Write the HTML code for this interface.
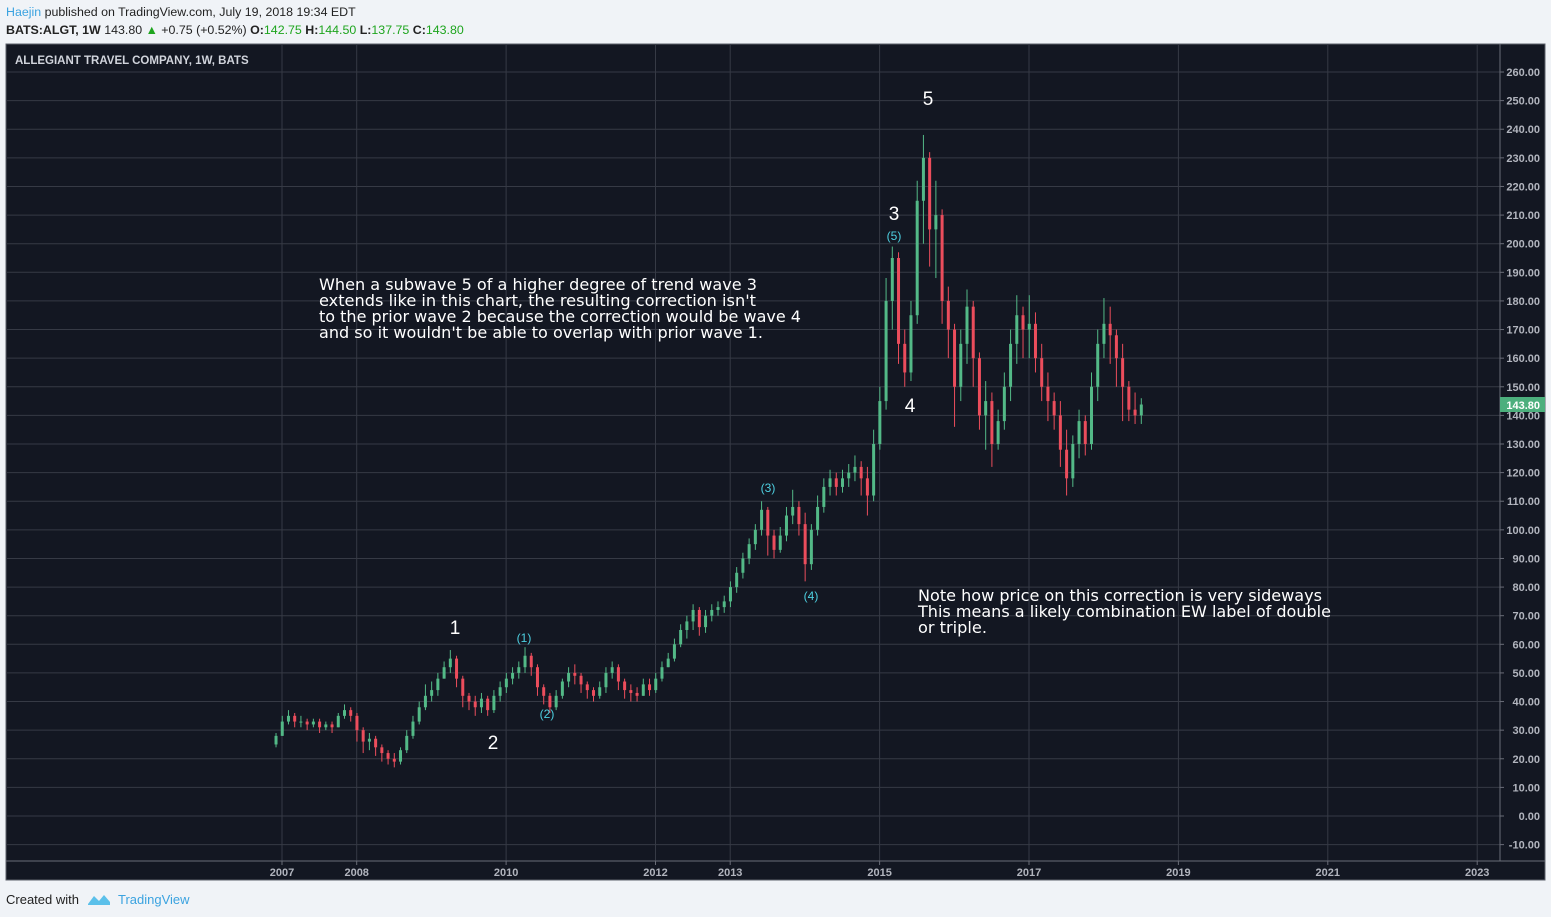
<!DOCTYPE html>
<html><head><meta charset="utf-8"><style>
body{margin:0;background:#f0f3f7;font-family:"Liberation Sans",sans-serif;}
svg{display:block}
</style></head><body>
<svg id="c" width="1551" height="917" xmlns="http://www.w3.org/2000/svg">
<rect x="0" y="0" width="1551" height="917" fill="#f0f3f7"/>
<text x="6" y="16" font-size="12.4" fill="#222"><tspan fill="#3ba3e0">Haejin</tspan> published on TradingView.com, July 19, 2018 19:34 EDT</text>
<text x="6" y="34" font-size="12.4" fill="#222"><tspan font-weight="bold">BATS:ALGT, 1W</tspan>  143.80 <tspan fill="#1ea51e">▲</tspan> +0.75 (+0.52%) <tspan font-weight="bold">O:</tspan><tspan fill="#1ea51e">142.75</tspan> <tspan font-weight="bold">H:</tspan><tspan fill="#1ea51e">144.50</tspan> <tspan font-weight="bold">L:</tspan><tspan fill="#1ea51e">137.75</tspan> <tspan font-weight="bold">C:</tspan><tspan fill="#1ea51e">143.80</tspan></text>
<rect x="6" y="44" width="1539" height="836" fill="#131722" stroke="#5d606b"/>
<g id="grid"></g>
<line x1="6" y1="861" x2="1545" y2="861" stroke="#6a6d78"/>
<line x1="1500" y1="44" x2="1500" y2="861" stroke="#6a6d78"/>
<g id="axes"></g>
<g id="candles"></g>
<text x="15" y="64" font-size="11.5" fill="#d1d4dc" font-weight="bold">ALLEGIANT TRAVEL COMPANY, 1W, BATS</text>
<g font-size="16" fill="#ffffff" font-family="DejaVu Sans, sans-serif">
<text x="319" y="290" textLength="438" lengthAdjust="spacingAndGlyphs">When a subwave 5 of a higher degree of trend wave 3</text>
<text x="319" y="306" textLength="437" lengthAdjust="spacingAndGlyphs">extends like in this chart, the resulting correction isn't</text>
<text x="319" y="322" textLength="482" lengthAdjust="spacingAndGlyphs">to the prior wave 2 because the correction would be wave 4</text>
<text x="319" y="338" textLength="444" lengthAdjust="spacingAndGlyphs">and so it wouldn't be able to overlap with prior wave 1.</text>
</g>
<g font-size="16" fill="#ffffff" font-family="DejaVu Sans, sans-serif">
<text x="918" y="601" textLength="404" lengthAdjust="spacingAndGlyphs">Note how price on this correction is very sideways</text>
<text x="918" y="617" textLength="413" lengthAdjust="spacingAndGlyphs">This means a likely combination EW label of double</text>
<text x="918" y="633" textLength="69" lengthAdjust="spacingAndGlyphs">or triple.</text>
</g>
<g font-size="19" fill="#ffffff" text-anchor="middle">
<text x="928" y="105">5</text>
<text x="894" y="220">3</text>
<text x="910" y="412">4</text>
<text x="455" y="634">1</text>
<text x="493" y="749">2</text>
</g>
<g font-size="12" fill="#4dd0e1" text-anchor="middle">
<text x="894" y="240">(5)</text>
<text x="768" y="492">(3)</text>
<text x="811" y="600">(4)</text>
<text x="524" y="642">(1)</text>
<text x="547" y="718">(2)</text>
</g>
<rect x="1500" y="397" width="45" height="15" fill="#4caf7d"/>
<text x="1540" y="409" font-size="11" fill="#fff" font-weight="bold" text-anchor="end">143.80</text>
<text x="6" y="904" font-size="13" fill="#222">Created with</text>
<path d="M88 904 L94 896 L99 901 L104 895 L110 902 L110 905 L88 905 Z" fill="#5bc0ea"/>
<text x="118" y="904" font-size="13" fill="#3ba3e0">TradingView</text>
</svg>
<script>
const startYear = 2006.92;
const closes = [28,
33,35,33,33,32,33,31,32,31,35,37,35,
30,26,27,24,22,20,19,23,28,33,38,42,
44,48,52,55,48,42,40,38,41,37,42,45,
48,50,52,56,52,45,42,38,42,47,50,49,
46,44,42,45,50,52,47,44,43,42,46,44,
48,52,55,60,65,68,72,66,70,72,73,75,
80,85,90,95,100,107,98,93,98,105,108,102,
88,100,108,115,118,115,118,120,122,118,112,130,
145,180,195,165,155,175,215,230,205,210,180,170,
150,165,178,160,140,145,130,138,150,165,175,170,
172,160,150,145,140,128,118,130,138,130,150,165,
172,168,160,150,142,140,143.8];
const highs = [29,
35,37,36,35,34,34,34,33,33,36,39,38,
36,31,29,28,25,23,22,24,30,35,40,46,
47,50,54,58,56,49,43,42,43,42,44,47,
50,52,54,59,57,53,46,43,44,48,52,53,
50,47,45,47,52,54,53,48,46,45,48,48,
50,54,57,62,67,70,74,73,72,74,75,77,
82,87,92,97,102,110,108,100,101,108,114,110,
106,102,112,118,121,120,121,123,126,124,122,135,
150,188,199,197,170,180,222,238,232,222,212,185,
172,170,184,180,162,152,148,142,155,170,182,178,
182,176,165,155,148,145,135,133,142,140,155,170,
181,178,170,165,152,148,146];
const lows = [24,
28,32,31,31,30,31,29,30,29,31,34,33,
26,22,23,21,19,18,17,18,22,27,32,37,
40,42,48,50,45,38,37,35,36,35,36,40,
43,46,48,50,49,42,39,36,37,41,45,46,
43,41,40,41,43,48,44,41,40,40,42,42,
43,47,52,54,59,62,65,63,64,68,70,71,
73,78,83,88,93,98,91,90,92,96,102,98,
82,86,98,106,112,112,113,115,117,112,105,110,
128,142,170,158,150,152,172,200,192,188,172,160,
136,145,158,150,135,128,122,128,135,145,158,160,
160,155,145,138,135,122,112,115,125,126,128,145,
160,158,150,138,138,137,137];
const firstOpen = 25;
const yearTicks = [2007,2008,2010,2012,2013,2015,2017,2019,2021,2023];
const priceTicks = [-10,0,10,20,30,40,50,60,70,80,90,100,110,120,130,140,150,160,170,180,190,200,210,220,230,240,250,260];

const NS = "http://www.w3.org/2000/svg";
function xs(t){ return 282 + (t - 2007) * 74.7; }
function ys(v){ return 816 - v * (744 / 260); }
function mk(tag, attrs, parent){
  const e = document.createElementNS(NS, tag);
  for (const k in attrs) e.setAttribute(k, attrs[k]);
  parent.appendChild(e); return e;
}
const grid = document.getElementById('grid');
const axes = document.getElementById('axes');
const cg = document.getElementById('candles');
priceTicks.forEach(p => {
  const y = ys(p);
  const l = mk('line', {x1:6, x2:1500, y1:y, y2:y, stroke:'#363a45'}, grid);
  
  
  mk('line', {x1:1500, x2:1504, y1:y, y2:y, stroke:'#6a6d78'}, axes);
  const t = mk('text', {x:1540, y:y+4, 'font-size':11, fill:'#b2b5be', 'text-anchor':'end', 'font-weight':'bold'}, axes);
  t.textContent = p.toFixed(2);
  
  
});
yearTicks.forEach(yr => {
  const x = xs(yr);
  const l = mk('line', {x1:x, x2:x, y1:44, y2:861, stroke:'#363a45'}, grid);
  
  
  mk('line', {x1:x, x2:x, y1:861, y2:865, stroke:'#6a6d78'}, axes);
  const t = mk('text', {x:x, y:876, 'font-size':11, fill:'#b2b5be', 'text-anchor':'middle', 'font-weight':'bold'}, axes);
  t.textContent = yr;
  
  
});
closes.forEach((c, i) => {
  const o = i === 0 ? firstOpen : closes[i-1];
  const h = Math.max(highs[i], o, c), lo = Math.min(lows[i], o, c);
  const x = xs(startYear + i / 12);
  const col = c >= o ? '#53b987' : '#eb4d5c';
  const w = mk('line', {x1:x, x2:x, y1:ys(h), y2:ys(lo), stroke:col, 'stroke-width':1}, cg);
  
  
  const top = ys(Math.max(o, c)), bot = ys(Math.min(o, c));
  const b = mk('rect', {x:x-1.5, y:top, width:3, height:Math.max(1, bot-top), fill:col}, cg);
  
  
});
</script>
</body></html>
